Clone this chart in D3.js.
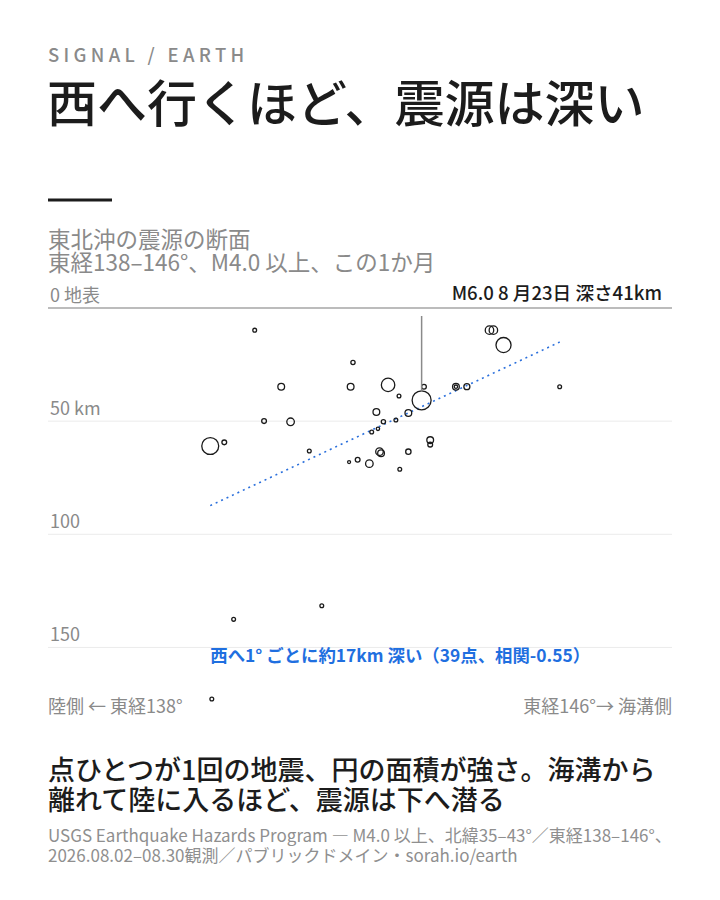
<!DOCTYPE html>
<html lang="ja">
<head>
<meta charset="utf-8">
<script src="https://cdn.jsdelivr.net/npm/d3@7"></script>
<style>
  body { margin: 0; background: #fff; }
  svg { display: block; font-family: "Noto Sans CJK JP", "Noto Sans", sans-serif; }
</style>
</head>
<body>
<div id="container"></div>
<script>
// data: one entry per quake
const lons = [140.65, 140.99, 140.77, 141.11, 140.08, 140.26, 141.35, 141.91, 141.88, 141.86,
    141.97, 142.36, 142.50, 142.82, 142.79, 142.21, 142.62, 142.46, 142.30, 142.23,
    142.15, 142.90, 142.90, 142.12, 142.25, 142.27, 142.62, 142.51, 143.66, 143.71,
    143.84, 143.23, 143.23, 143.37, 144.56, 140.38, 141.51, 140.10]
const depths = [10, 35, 50.2, 50.5, 61.2, 59.6, 63.4, 24.3, 35, 68.3,
    67.3, 34.2, 39.1, 35, 41, 46.2, 46.6, 49.7, 50.5, 53.6,
    55.0, 58.6, 60.6, 69.0, 63.7, 64.4, 63.7, 71.5, 10, 10,
    16.6, 35, 35, 35, 35, 137.8, 131.8, 173]
const mags = [4.6, 5.1, 4.8, 5.2, 5.9, 4.8, 4.6, 4.7, 5.1, 4.4,
    4.8, 5.7, 4.6, 4.8, 6.0, 5.1, 5.1, 4.6, 4.7, 4.5,
    4.6, 5.1, 4.8, 5.2, 5.2, 5.1, 4.9, 4.6, 5.3, 5.3,
    5.8, 5.1, 4.5, 5.0, 4.6, 4.6, 4.6, 4.6]

const depthTicks = [0, 50, 100, 150]
const depthLabels = ['0 地表', '50 km', '100', '150']
const lonRange = [138, 146]

const width = 720
const height = 900
const margin = { left: 48, right: 48 }

const svg = d3.select('#container').append('svg')
    .attr('width', width).attr('height', height)

// header
svg.append('text')
    .attr('x', 48).attr('y', 61.5)
    .attr('fill', '#8a8a8a')
    .style('font-size', '18.5px').style('font-weight', 500)
    .style('letter-spacing', '4.3px')
    .text('SIGNAL / EARTH')

svg.append('text')
    .attr('x', 47).attr('y', 122)
    .attr('fill', '#1c1c1c')
    .style('font-size', '50px').style('font-weight', 500)
    .text('西へ行くほど、震源は深い')

svg.append('rect')
    .attr('x', 48).attr('y', 198.5)
    .attr('width', 64).attr('height', 3)
    .attr('fill', '#1c1c1c')

const subtitle = ['東北沖の震源の断面', '東経138–146°、M4.0 以上、この1か月']
svg.append('g').selectAll('text')
    .data(subtitle)
    .enter()
    .append('text')
    .attr('x', 48).attr('y', (d, i) => 248 + i * 23)
    .attr('fill', '#8a8a8a')
    .style('font-size', '22.5px')
    .text(d => d)

// scales
const xScale = d3.scaleLinear()
    .domain(lonRange)
    .range([margin.left, width - margin.right])

const yScale = d3.scaleLinear()
    .domain([0, 175])
    .range([307.5, 307.5 + 175 * 2.263])

const rScale = d3.scaleSqrt()
    .domain([0, Math.pow(10, 6)])
    .range([0, 9.5])

// depth grid
const yAxis = d3.axisRight(yScale)
    .tickValues(depthTicks)
    .tickSize(width - margin.left - margin.right)
    .tickFormat((d, i) => depthLabels[i])

const gy = svg.append('g')
    .attr('transform', `translate(${margin.left}, 0)`)
    .call(yAxis)
gy.select('.domain').remove()
gy.selectAll('.tick line')
    .attr('stroke', d => d === 0 ? '#bcbcbc' : '#ebebeb')
    .attr('stroke-width', d => d === 0 ? 2 : 1)
gy.selectAll('.tick text')
    .attr('x', 2).attr('dy', -6)
    .attr('fill', '#8a8a8a')
    .style('font-size', '18px')
    .style('font-family', '"Noto Sans CJK JP", sans-serif')

// trend (least squares of depth on longitude)
const n = lons.length
const mx = d3.mean(lons)
const my = d3.mean(depths)
let sxy = 0, sxx = 0
for (let i = 0; i < n; i++) {
    sxy += (lons[i] - mx) * (depths[i] - my)
    sxx += (lons[i] - mx) * (lons[i] - mx)
}
const slope = sxy / sxx
const minLon = d3.min(lons)
const maxLon = d3.max(lons)
const trend = [minLon, maxLon].map(l => [l, my + slope * (l - mx)])

svg.append('path')
    .datum(trend)
    .attr('fill', 'none')
    .attr('stroke', '#2a6fdc')
    .attr('stroke-width', 1.6)
    .attr('stroke-dasharray', '2,4')
    .attr('d', d3.line().x(d => xScale(d[0])).y(d => yScale(d[1])))

// quakes
const quakes = lons.map((l, i) => ({ lon: l, depth: depths[i], mag: mags[i] }))

svg.append('g').selectAll('circle')
    .data(quakes)
    .enter()
    .append('circle')
    .attr('cx', d => xScale(d.lon))
    .attr('cy', d => yScale(d.depth))
    .attr('r', d => rScale(Math.pow(10, d.mag)))
    .attr('fill', 'none')
    .attr('stroke', '#1a1a1a')
    .attr('stroke-width', 1.3)

// biggest quake callout
const big = quakes[d3.maxIndex(quakes, d => d.mag)]
svg.append('line')
    .attr('x1', xScale(big.lon)).attr('x2', xScale(big.lon))
    .attr('y1', 316)
    .attr('y2', yScale(big.depth) - rScale(Math.pow(10, big.mag)))
    .attr('stroke', '#8a8a8a')
    .attr('stroke-width', 1.5)

svg.append('text')
    .attr('x', 662).attr('y', 299.5)
    .attr('text-anchor', 'end')
    .attr('fill', '#1c1c1c')
    .style('font-size', '18.6px').style('font-weight', 500)
    .text('M6.0 8 月23日 深さ41km')

svg.append('text')
    .attr('x', xScale(minLon)).attr('y', 661.5)
    .attr('fill', '#1f6fe0')
    .style('font-size', '17.4px').style('font-weight', 700)
    .text('西へ1° ごとに約17km 深い（39点、相関-0.55）')

// longitude ends
svg.append('text')
    .attr('x', xScale(lonRange[0])).attr('y', 712.5)
    .attr('fill', '#8a8a8a')
    .style('font-size', '18px')
    .text('陸側 ← 東経138°')

svg.append('text')
    .attr('x', xScale(lonRange[1])).attr('y', 712.5)
    .attr('text-anchor', 'end')
    .attr('fill', '#8a8a8a')
    .style('font-size', '18px')
    .text('東経146°→ 海溝側')

// caption
const caption = ['点ひとつが1回の地震、円の面積が強さ。海溝から', '離れて陸に入るほど、震源は下へ潜る']
svg.append('g').selectAll('text')
    .data(caption)
    .enter()
    .append('text')
    .attr('x', 48).attr('y', (d, i) => 780 + i * 30)
    .attr('fill', '#1c1c1c')
    .style('font-size', '27px').style('font-weight', 500)
    .text(d => d)

const source = ['USGS Earthquake Hazards Program — M4.0 以上、北緯35–43°／東経138–146°、',
    '2026.08.02–08.30観測／パブリックドメイン・sorah.io/earth']
svg.append('g').selectAll('text')
    .data(source)
    .enter()
    .append('text')
    .attr('x', 48).attr('y', (d, i) => 842 + i * 19.5)
    .attr('fill', '#8f8f8f')
    .style('font-size', '17px')
    .text(d => d)
</script>
</body>
</html>
